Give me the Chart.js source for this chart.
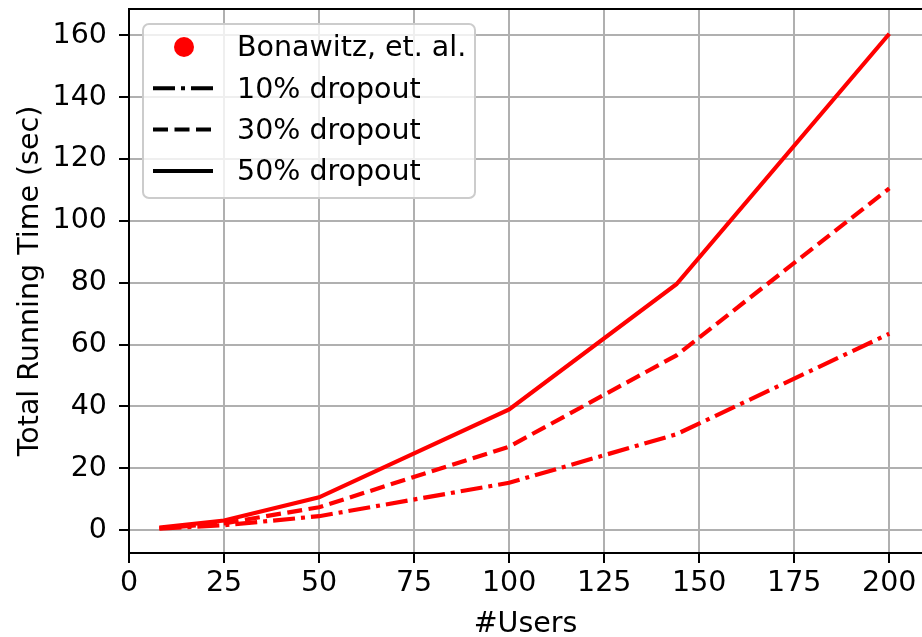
<!DOCTYPE html>
<html>
<head>
<meta charset="utf-8">
<script src="https://cdn.jsdelivr.net/npm/chart.js@4.4.1/dist/chart.umd.min.js"></script>
<style>
  html, body { margin: 0; padding: 0; background: #fff; overflow: hidden; }
</style>
</head>
<body>
<canvas id="chart1" width="922" height="637"></canvas>
<script>
var users = [8, 25, 50, 100, 144, 200];
var drop10 = [0.5, 1.6, 4.5, 15.3, 31, 63.5];
var drop30 = [0.6, 2.2, 7.4, 27, 56.5, 110.5];
var drop50 = [0.8, 3.1, 10.6, 39, 79.5, 160.5];

var xTicks = [0, 25, 50, 75, 100, 125, 150, 175, 200];
var yTicks = [0, 20, 40, 60, 80, 100, 120, 140, 160];

var legendLabels = ['Bonawitz, et. al.', '10% dropout', '30% dropout', '50% dropout'];

function pts(ys) {
  return users.map(function (u, i) { return { x: u, y: ys[i] }; });
}

Chart.defaults.font.family = "'DejaVu Sans', sans-serif";
Chart.defaults.font.size = 28.5;
Chart.defaults.color = '#000';

// matplotlib style legend box, top spine
var mplLegend = {
  id: 'mplLegend',
  afterDatasetsDraw: function (chart) {
    var c = chart.ctx, a = chart.chartArea;
    var x0 = a.left + 14, y0 = a.top + 15;
    c.save();
    c.beginPath();
    c.roundRect(x0, y0, 332, 174, 6);
    c.fillStyle = 'rgba(255,255,255,0.8)';
    c.fill();
    c.lineWidth = 2;
    c.strokeStyle = '#cccccc';
    c.stroke();

    c.font = '28.5px "DejaVu Sans"';
    c.textBaseline = 'middle';
    c.textAlign = 'left';
    legendLabels.forEach(function (lab, i) {
      var y = y0 + 23 + i * 41.3;
      if (i === 0) {
        c.beginPath();
        c.arc(x0 + 41, y, 10, 0, Math.PI * 2);
        c.fillStyle = '#ff0000';
        c.fill();
      } else {
        var ds = chart.data.datasets[i - 1];
        c.beginPath();
        c.setLineDash(ds.borderDash);
        c.lineWidth = 4;
        c.strokeStyle = '#000';
        c.moveTo(x0 + 10, y);
        c.lineTo(x0 + 70, y);
        c.stroke();
        c.setLineDash([]);
      }
      c.fillStyle = '#000';
      c.fillText(lab, x0 + 94, y + 2);
    });

    c.beginPath();
    c.lineWidth = 2;
    c.strokeStyle = '#000';
    c.moveTo(a.left, a.top);
    c.lineTo(a.right, a.top);
    c.stroke();
    c.restore();
  }
};

var ctx = document.getElementById('chart1').getContext('2d');
var myChart = new Chart(ctx, {
  type: 'line',
  data: {
    datasets: [
      {
        label: legendLabels[1],
        data: pts(drop10),
        borderColor: '#ff0000',
        borderWidth: 4.2,
        borderDash: [22, 6, 4, 6],
        pointRadius: 0,
        fill: false
      },
      {
        label: legendLabels[2],
        data: pts(drop30),
        borderColor: '#ff0000',
        borderWidth: 4.2,
        borderDash: [15, 6.5],
        pointRadius: 0,
        fill: false
      },
      {
        label: legendLabels[3],
        data: pts(drop50),
        borderColor: '#ff0000',
        borderWidth: 4.2,
        borderDash: [],
        pointRadius: 0,
        fill: false
      }
    ]
  },
  options: {
    responsive: false,
    animation: false,
    layout: { padding: { top: 9, right: 0, left: 0, bottom: 0 } },
    plugins: {
      legend: { display: false },
      tooltip: { enabled: false }
    },
    scales: {
      x: {
        type: 'linear',
        min: 0,
        max: 208.6,
        afterBuildTicks: function (scale) {
          scale.ticks = xTicks.map(function (v) { return { value: v }; });
        },
        afterFit: function (scale) {
          scale.height = 84;
          scale.paddingLeft = 0;
          scale.paddingRight = 0;
        },
        grid: { color: '#b0b0b0', lineWidth: 2, tickLength: 10, tickColor: '#000', tickWidth: 2 },
        border: { color: '#000', width: 2 },
        ticks: { padding: 3, maxRotation: 0 },
        title: {
          display: true,
          text: '#Users',
          font: { size: 28.5, lineHeight: 1 },
          padding: { top: 0, bottom: -2 }
        }
      },
      y: {
        min: -7.4,
        max: 168.5,
        afterBuildTicks: function (scale) {
          scale.ticks = yTicks.map(function (v) { return { value: v }; });
        },
        afterFit: function (scale) {
          scale.width = 129;
          scale.paddingTop = 0;
          scale.paddingBottom = 0;
        },
        grid: { color: '#b0b0b0', lineWidth: 2, tickLength: 10, tickColor: '#000', tickWidth: 2 },
        border: { color: '#000', width: 2 },
        ticks: { padding: 12 },
        title: {
          display: true,
          text: 'Total Running Time (sec)',
          font: { size: 28.5, lineHeight: 1 },
          padding: { top: 16, bottom: 0 }
        }
      }
    }
  },
  plugins: [mplLegend]
});
</script>
</body>
</html>
